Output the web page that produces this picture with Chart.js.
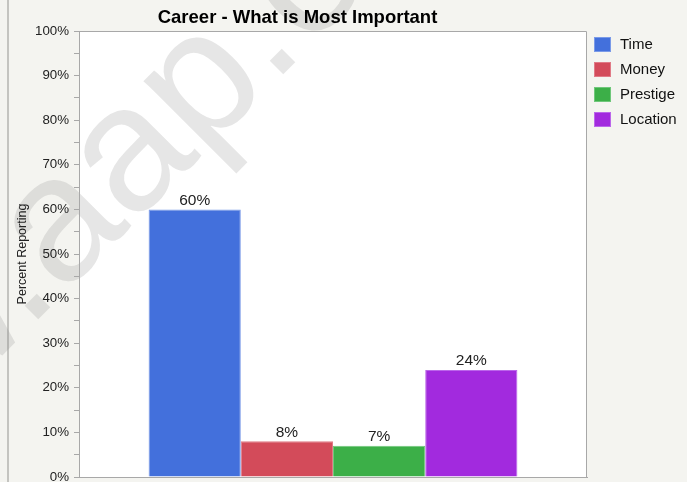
<!DOCTYPE html>
<html>
<head>
<meta charset="utf-8">
<script src="https://cdn.jsdelivr.net/npm/chart.js@4.4.1/dist/chart.umd.min.js"></script>
<style>
  html, body { margin: 0; padding: 0; background: #f4f4f0; overflow: hidden; }
  #wrap { width: 687px; height: 491px; position: relative; }
</style>
</head>
<body>
<div id="wrap"><canvas id="chart"></canvas></div>
<script>
// values
const categories = ['Time', 'Money', 'Prestige', 'Location'];
const percents = [60, 8, 7, 24];
const barColors = ['#4370dc', '#d34b5a', '#3caf48', '#a22ade'];
const barBorders = ['#7a9ae8', '#e07a86', '#6fc77a', '#bb66ea'];
const chartTitle = 'Career - What is Most Important';
const yTitle = 'Percent Reporting';

const FONT = "'Liberation Sans', Arial, sans-serif";

// background panel, white plot area and watermark, drawn under everything
const backdrop = {
    id: 'backdrop',
    beforeDraw(chart) {
        const ctx = chart.ctx, a = chart.chartArea;
        ctx.save();
        ctx.fillStyle = '#f4f4f0';
        ctx.fillRect(0, 0, chart.width, chart.height);
        ctx.fillStyle = '#ffffff';
        ctx.fillRect(a.left, a.top, a.right - a.left, a.bottom - a.top);
        ctx.strokeStyle = '#c4c4c0';
        ctx.lineWidth = 2;
        ctx.beginPath();
        ctx.moveTo(8, 0);
        ctx.lineTo(8, chart.height);
        ctx.stroke();

        // watermark
        const size = 178;
        ctx.font = size + 'px ' + FONT;
        ctx.fillStyle = 'rgba(128,128,128,0.2)';
        const pre = ctx.measureText('www').width;
        const dot = ctx.measureText('.').width;
        ctx.translate(45, 300);
        ctx.rotate(-Math.PI / 4);
        ctx.textBaseline = 'alphabetic';
        ctx.fillText('www.aap.org', -pre - dot / 2, size * 0.05);
        ctx.restore();
    },
    afterDraw(chart) {
        const ctx = chart.ctx, a = chart.chartArea;
        ctx.save();
        ctx.strokeStyle = '#a8a8a8';
        ctx.lineWidth = 1;
        ctx.beginPath();
        ctx.moveTo(a.left, a.top + 0.5);
        ctx.lineTo(a.right - 0.5, a.top + 0.5);
        ctx.lineTo(a.right - 0.5, a.bottom);
        ctx.stroke();

        // title centred between the panel edge and the plot's right edge
        ctx.fillStyle = '#000';
        ctx.font = 'bold 18.5px ' + FONT;
        ctx.textAlign = 'center';
        ctx.textBaseline = 'middle';
        ctx.fillText(chartTitle, (8 + a.right) / 2, 18);

        // legend on the right, one row per dataset
        ctx.font = '15px ' + FONT;
        ctx.textAlign = 'left';
        chart.data.datasets.forEach((ds, i) => {
            const y = 37 + i * 25;
            ctx.fillStyle = ds.backgroundColor;
            ctx.fillRect(a.right + 7, y, 17, 15);
            ctx.strokeStyle = ds.borderColor;
            ctx.strokeRect(a.right + 7.5, y + 0.5, 16, 14);
            ctx.fillStyle = '#111';
            ctx.fillText(ds.label, a.right + 33, y + 8);
        });
        ctx.restore();
    }
};

// value labels above each bar
const valueLabels = {
    id: 'valueLabels',
    afterDatasetsDraw(chart) {
        const ctx = chart.ctx;
        ctx.save();
        ctx.font = '15.5px ' + FONT;
        ctx.fillStyle = '#222';
        ctx.textAlign = 'center';
        ctx.textBaseline = 'bottom';
        chart.data.datasets.forEach((ds, i) => {
            const bar = chart.getDatasetMeta(i).data[0];
            ctx.fillText(ds.data[0] + '%', bar.x, bar.y - 1);
        });
        ctx.restore();
    }
};

new Chart(document.getElementById('chart').getContext('2d'), {
    type: 'bar',
    data: {
        labels: [''],
        datasets: categories.map((name, i) => ({
            label: name,
            data: [percents[i]],
            backgroundColor: barColors[i],
            borderColor: barBorders[i],
            borderWidth: 1,
            barPercentage: 1,
            categoryPercentage: 0.726
        }))
    },
    options: {
        responsive: true,
        maintainAspectRatio: false,
        animation: false,
        layout: {padding: {top: 31, left: 15, right: 100, bottom: 6}},
        plugins: {
            title: {display: false},
            tooltip: {enabled: false},
            legend: {display: false}
        },
        scales: {
            x: {
                grid: {display: false},
                ticks: {display: false},
                border: {display: true, color: '#a8a8a8'}
            },
            y: {
                min: 0,
                max: 100,
                ticks: {
                    stepSize: 5,
                    autoSkip: false,
                    padding: 5,
                    color: '#222',
                    font: {family: FONT, size: 13.3},
                    callback: v => (v % 10 === 0 ? v + '%' : '')
                },
                grid: {
                    drawOnChartArea: false,
                    drawTicks: true,
                    tickLength: 5,
                    tickColor: '#a8a8a8'
                },
                border: {display: true, color: '#a8a8a8'},
                title: {
                    display: true,
                    text: yTitle,
                    color: '#222',
                    padding: {top: 0, bottom: 0},
                    font: {family: FONT, size: 12.5}
                }
            }
        }
    },
    plugins: [backdrop, valueLabels]
});
</script>
</body>
</html>
